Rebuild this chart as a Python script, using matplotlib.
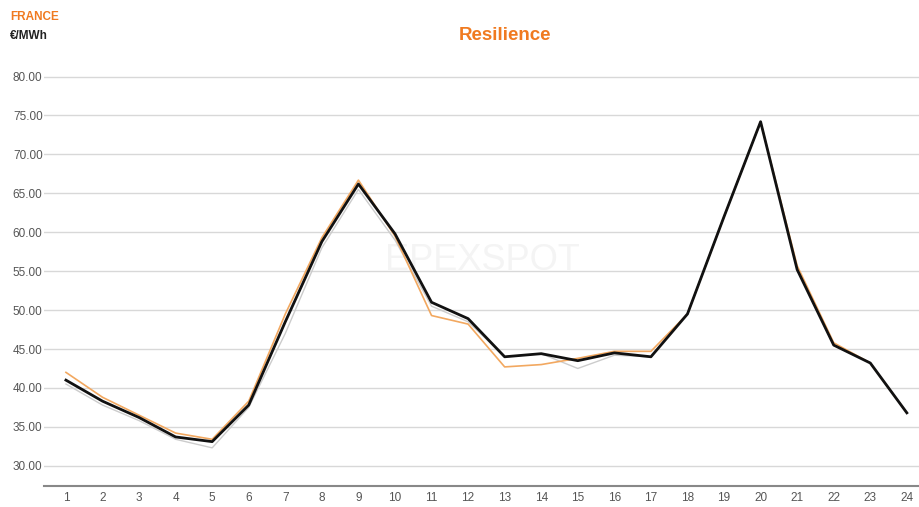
import matplotlib
matplotlib.use("Agg")
import matplotlib.pyplot as plt

hours = list(range(1, 25))
price_black = [41.0, 38.3, 36.2, 33.7, 33.1, 37.8, 48.5, 58.8, 66.2, 59.8, 51.0, 48.9,
               44.0, 44.4, 43.5, 44.5, 44.0, 49.5, 62.0, 74.2, 55.2, 45.5, 43.2, 36.8]
price_orange = [42.0, 38.8, 36.5, 34.2, 33.4, 38.3, 49.5, 59.3, 66.7, 59.5, 49.3, 48.2,
                42.7, 43.0, 43.8, 44.7, 44.7, 49.5, 62.0, 74.2, 55.7, 45.8, 43.2, 36.8]
price_gray = [40.5, 37.8, 35.8, 33.4, 32.3, 37.5, 47.0, 58.0, 65.5, 59.0, 50.5, 48.5,
              44.0, 44.4, 42.5, 44.2, 44.0, 49.5, 62.0, 74.2, 55.2, 45.5, 43.2, 36.8]
yticks = [30, 35, 40, 45, 50, 55, 60, 65, 70, 75, 80]

plt.rcParams['font.family'] = ['Liberation Sans', 'DejaVu Sans']

fig = plt.figure(figsize=(9.2, 5.07), dpi=100)
ax = fig.add_axes([44/920, 21/507, 876/920, (486-61)/507])

ax.plot(hours, price_gray, color='#cccccc', lw=1.0, zorder=3)
ax.plot(hours, price_orange, color='#f2a860', lw=1.2, zorder=4)
ax.plot(hours, price_black, color='#111111', lw=2.0, zorder=5)

ax.set_xlim(0.40, 24.36)
ax.set_ylim(27.4, 82)
ax.set_yticks(yticks)
ax.set_yticklabels([f"{v:.2f}" for v in yticks])
ax.set_xticks(hours)
ax.set_xticklabels([str(h) for h in hours])
ax.grid(axis='y', color='#d8d8d8', lw=1.0)
ax.set_axisbelow(True)
for s in ['top', 'right', 'left']:
    ax.spines[s].set_visible(False)
ax.spines['bottom'].set_color('#888888')
ax.spines['bottom'].set_linewidth(1.5)
ax.tick_params(axis='both', length=0, labelsize=8.5, labelcolor='#555555')
ax.tick_params(axis='y', pad=1)
ax.tick_params(axis='x', pad=4)

ax.text(0.5, 0.53, 'EPEXSPOT', transform=ax.transAxes, ha='center', va='center',
        fontsize=26, color='#f4f4f4', zorder=1)

fig.text(505/920, 1 - 35/507, 'Resilience', ha='center', va='center',
         fontsize=13.5, fontweight='bold', color='#f07a20')
fig.text(10/920, 1 - 17/507, 'FRANCE', ha='left', va='center',
         fontsize=8.5, fontweight='bold', color='#f07a20')
fig.text(10/920, 1 - 36/507, '€/MWh', ha='left', va='center',
         fontsize=8.5, fontweight='bold', color='#222222')

fig.savefig('out.png', dpi=100)
